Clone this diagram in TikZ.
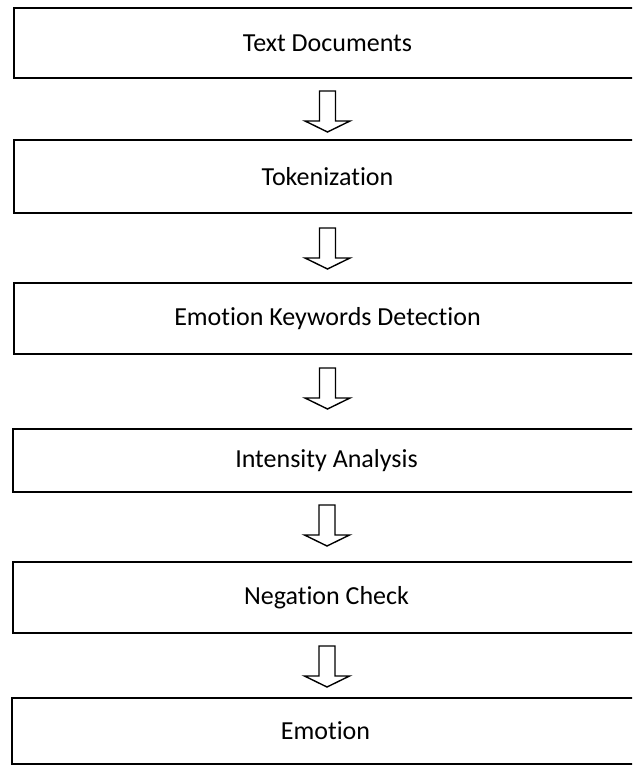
\documentclass[tikz,border=0pt]{standalone}
\usepackage{fontspec}
\setmainfont[Ligatures=NoCommon]{Carlito}
\begin{document}
\begin{tikzpicture}[x=1pt,y=-1pt,
  box/.style={draw=black, line width=2pt, anchor=north west, minimum width=650pt, inner sep=0pt, font=\fontsize{26}{30}\selectfont},
  arrowline/.style={draw=black, line width=1.4pt, fill=white, line join=miter},
  downarrow/.pic={\path[arrowline] (-8,0) -- (-8,30) -- (-22.5,30) -- (0,41) -- (22.5,30) -- (8,30) -- (8,0) -- cycle;}]
\useasboundingbox (0,0) rectangle (632,765);
\clip (0,0) rectangle (632,765);
\node[box, minimum height=70pt] (t1) at (13,7) {\hspace*{-23pt}Text Documents};
\node[box, minimum height=73pt] (t2) at (13,139) {\hspace*{-23pt}Tokenization};
\node[box, minimum height=71pt] (t3) at (13,282) {\hspace*{-23pt}Emotion Keywords Detection};
\node[box, minimum height=63pt] (t4) at (12,428) {\hspace*{-23pt}Intensity Analysis};
\node[box, minimum height=71pt] (t5) at (12,561) {\hspace*{-23pt}Negation Check};
\node[box, minimum height=66pt] (t6) at (11,697) {\hspace*{-23pt}Emotion};
\pic at ([xshift=-11.5pt,yshift=-12pt]t1.south) {downarrow};
\pic at ([xshift=-11.5pt,yshift=-14pt]t2.south) {downarrow};
\pic at ([xshift=-11.5pt,yshift=-13pt]t3.south) {downarrow};
\pic at ([xshift=-11pt,yshift=-12pt]t4.south) {downarrow};
\pic at ([xshift=-11pt,yshift=-12pt]t5.south) {downarrow};
\end{tikzpicture}
\end{document}
